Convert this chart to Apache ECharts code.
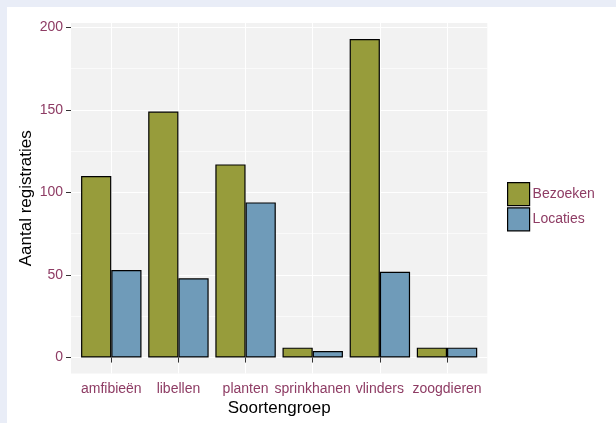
<!DOCTYPE html>
<html>
<head>
<meta charset="utf-8">
<script src="https://cdn.jsdelivr.net/npm/echarts@6/dist/echarts.min.js"></script>
<style>
  html, body { margin: 0; padding: 0; width: 616px; height: 423px; overflow: hidden; background: #e9edf7; }
  #paper { position: absolute; left: 7px; top: 7px; right: 0; bottom: 0; background: #ffffff; }
  #chart { position: absolute; left: 0; top: 0; width: 616px; height: 423px; }
</style>
</head>
<body>
<div id="paper"></div>
<div id="chart"></div>
<script>
const categories = ['amfibieën', 'libellen', 'planten', 'sprinkhanen', 'vlinders', 'zoogdieren'];
const bezoeken = [110, 149, 117, 6, 193, 6];
const locaties = [53, 48, 94, 4, 52, 6];
const yTicks = [0, 50, 100, 150, 200];
const yMinor = [25, 75, 125, 175];
const seriesNames = ['Bezoeken', 'Locaties'];

const positions = categories.map((c, i) => i + 1);
const labelColor = '#8e3c64';
const font = "'Liberation Sans', Arial, Helvetica, sans-serif";
const yMin = -9.65, yMax = 202.65;

const chart = echarts.init(document.getElementById('chart'), null, { renderer: 'canvas' });

const option = {
  animation: false,
  backgroundColor: 'transparent',
  textStyle: { fontFamily: font },
  grid: {
    left: 71, right: 128.7, top: 23, bottom: 49.5,
    show: true, backgroundColor: '#f2f2f2', borderWidth: 0,
    containLabel: false
  },
  legend: {
    data: seriesNames,
    orient: 'vertical',
    left: 507, top: 182,
    padding: 0,
    itemWidth: 22, itemHeight: 23, itemGap: 1,
    icon: 'rect',
    itemStyle: { borderColor: '#000', borderWidth: 1.2 },
    textStyle: { fontSize: 14, color: labelColor, fontFamily: font, padding: [0, 0, 0, -2] }
  },
  xAxis: {
    type: 'value',
    min: 0.4, max: 6.6,
    name: 'Soortengroep',
    nameLocation: 'middle',
    nameGap: 26,
    nameMoveOverlap: false,
    nameTextStyle: { fontSize: 17, color: '#000', fontFamily: font },
    axisLine: { show: false },
    axisTick: { show: true, length: 5, lineStyle: { color: '#333', width: 1 }, customValues: positions },
    axisLabel: {
      customValues: positions,
      margin: 9,
      fontSize: 14, color: labelColor, fontFamily: font,
      formatter: v => categories[Math.round(v) - 1] || ''
    },
    splitLine: { show: true, lineStyle: { color: '#ffffff', width: 1.1 } }
  },
  yAxis: [
    {
      type: 'value',
      min: yMin, max: yMax,
      name: 'Aantal registraties',
      nameLocation: 'middle',
      nameGap: 36,
      nameMoveOverlap: false,
      nameTextStyle: { fontSize: 17, color: '#000', fontFamily: font },
      axisLine: { show: false },
      axisTick: { show: true, length: 5, lineStyle: { color: '#333', width: 1 }, customValues: yTicks },
      axisLabel: { customValues: yTicks, margin: 8, fontSize: 14, color: labelColor, fontFamily: font },
      splitLine: { show: true, lineStyle: { color: '#ffffff', width: 1.1 } }
    },
    {
      type: 'value',
      position: 'left',
      min: yMin, max: yMax,
      axisLine: { show: false },
      axisTick: { show: false, customValues: yMinor },
      axisLabel: { show: false, customValues: yMinor },
      splitLine: { show: true, lineStyle: { color: '#ffffff', width: 0.6 } }
    }
  ],
  series: [
    {
      name: seriesNames[0],
      type: 'bar',
      z: 2,
      barWidth: '45%',
      barGap: '0%',
      data: positions.map((p, i) => [p, bezoeken[i]]),
      itemStyle: { color: '#979c3b', borderColor: '#000', borderWidth: 1.2 }
    },
    {
      name: seriesNames[1],
      type: 'bar',
      z: 2,
      barWidth: '45%',
      barGap: '0%',
      data: positions.map((p, i) => [p, locaties[i]]),
      itemStyle: { color: '#6f9bb9', borderColor: '#000', borderWidth: 1.2 }
    }
  ]
};
chart.setOption(option);
</script>
</body>
</html>
